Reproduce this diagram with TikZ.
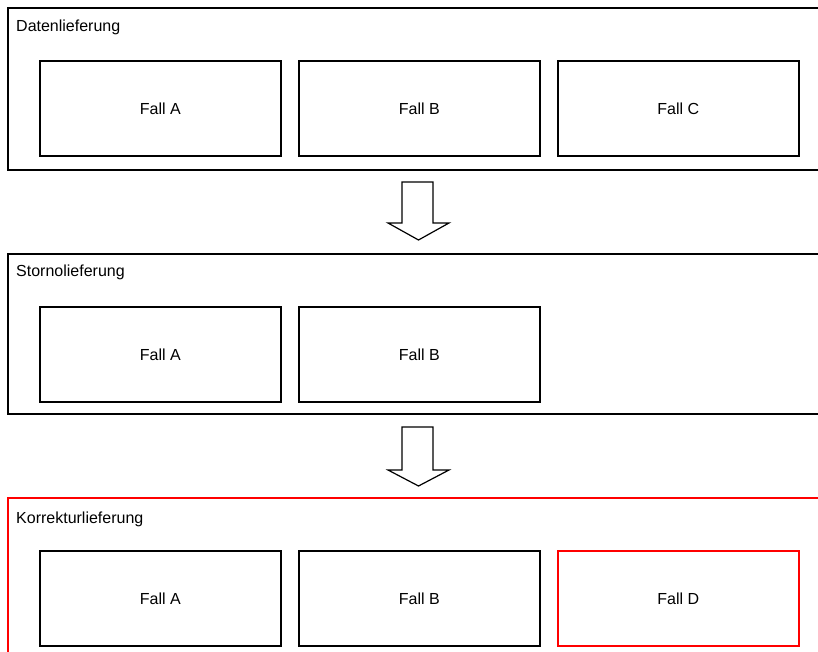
\documentclass[tikz,border=0pt]{standalone}
\usepackage{fontspec}
\setmainfont{Liberation Sans}
\definecolor{kred}{RGB}{255,0,0}
\begin{document}
\begin{tikzpicture}[x=1pt,y=-1pt,
  outerbox/.style={draw,line width=1.6pt,anchor=north west,inner sep=0pt,minimum width=830pt},
  fallbox/.style={draw,line width=1.6pt,anchor=north west,inner sep=0pt,minimum width=241pt,minimum height=95pt},
  redbox/.style={color=kred},
  falltext/.style={font=\fontsize{16}{19}\selectfont,text=black},
  grouplabel/.style={anchor=west,inner sep=0pt,font=\fontsize{16}{19}\selectfont},
  bigarrow/.style={draw=black,fill=white,line width=1.2pt,line join=miter}]
\useasboundingbox (0,0) rectangle (818,652);
\fill[white] (0,0) rectangle (818,652);
\begin{scope}
\clip (0,0) rectangle (818,652);
% group boxes
\node[outerbox,minimum height=162pt] (g1) at (7,7) {};
\node[outerbox,minimum height=160pt] (g2) at (7,253) {};
\node[outerbox,redbox,minimum height=170pt] (g3) at (7,497) {};
\end{scope}
% group labels
\node[grouplabel] (l1) at (16,27) {Datenlieferung};
\node[grouplabel] (l2) at (16,272) {Stornolieferung};
\node[grouplabel] (l3) at (16,519) {Korrekturlieferung};
% row 1
\node[fallbox] (a1) at (39,60) {};
\node[falltext] (ta1) at (a1.center) {Fall A};
\node[fallbox] (b1) at (298,60) {};
\node[falltext] (tb1) at (b1.center) {Fall B};
\node[fallbox] (c1) at (557,60) {};
\node[falltext] (tc1) at (c1.center) {Fall C};
% row 2
\node[fallbox] (a2) at (39,306) {};
\node[falltext] (ta2) at (a2.center) {Fall A};
\node[fallbox] (b2) at (298,306) {};
\node[falltext] (tb2) at (b2.center) {Fall B};
% row 3
\node[fallbox] (a3) at (39,550) {};
\node[falltext] (ta3) at (a3.center) {Fall A};
\node[fallbox] (b3) at (298,550) {};
\node[falltext] (tb3) at (b3.center) {Fall B};
\node[fallbox,redbox] (d3) at (557,550) {};
\node[falltext] (td3) at (d3.center) {Fall D};
% block arrows
\draw[bigarrow] (402,182) -- (433,182) -- (433,223) -- (449,223) -- (418.5,240) -- (388,223) -- (402,223) -- cycle;
\draw[bigarrow] (402,427) -- (433,427) -- (433,470) -- (449,470) -- (418.5,486) -- (388,470) -- (402,470) -- cycle;
\end{tikzpicture}
\end{document}
